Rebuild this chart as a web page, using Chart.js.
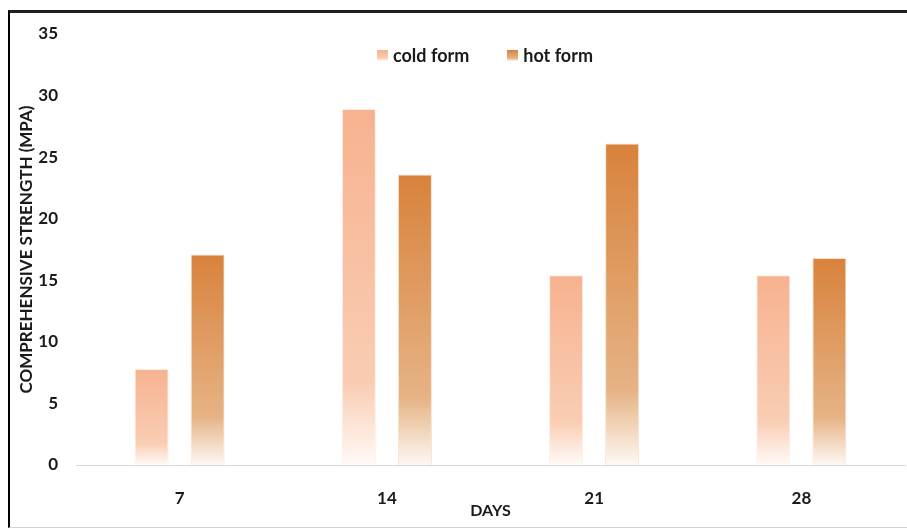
<!DOCTYPE html>
<html>
<head>
<meta charset="utf-8">
<script src="https://cdn.jsdelivr.net/npm/chart.js@4.4.1/dist/chart.umd.min.js"></script>
<style>
  html, body { margin: 0; padding: 0; background: #fff; overflow: hidden; }
  #wrap { position: relative; width: 907px; height: 528px; }
  #frame {
    position: absolute; left: 8px; top: 10px; width: 930px; height: 514px;
    border-left: 2px solid #000; border-top: 3px solid #1e1e1e; border-bottom: 1px solid #d4d4d4;
    pointer-events: none;
  }
  canvas { position: absolute; left: 0; top: 0; }
  #legend {
    position: absolute; top: 44px; left: 0; width: 970px; display: flex; justify-content: center; gap: 38px;
    font-family: Lato, "Open Sans", sans-serif; font-weight: bold; font-size: 18px; color: #1a1a1a;
  }
  #legend .item { display: flex; align-items: center; gap: 5px; }
  #legend .sw { width: 11px; height: 11px; }
</style>
</head>
<body>
<div id="wrap">
  <div id="frame"></div>
  <canvas id="c" width="907" height="528"></canvas>
  <div id="legend"></div>
</div>
<script>
const days = ['7', '14', '21', '28'];
const coldForm = [7.8, 28.9, 15.4, 15.4];
const hotForm = [17.1, 23.6, 26.1, 16.8];
const yTicks = [0, 5, 10, 15, 20, 25, 30, 35];

// gradient stops per series: solid top, lighter tint, near white at the base
const coldStops = ['#F7B28F', '#F9CDB3', '#FFFAF7'];
const hotStops = ['#D8823C', '#E6B385', '#FDF8F3'];

function barGradient(stops) {
  return (ctx) => {
    const chart = ctx.chart;
    if (!chart.chartArea || ctx.type !== 'data') return stops[0];
    const y = chart.scales.y;
    const top = y.getPixelForValue(ctx.parsed.y);
    const base = y.getPixelForValue(0);
    if (!isFinite(top) || top === base) return stops[0];
    const g = chart.ctx.createLinearGradient(0, top, 0, base);
    g.addColorStop(0, stops[0]);
    g.addColorStop(0.77, stops[1]);
    g.addColorStop(1, stops[2]);
    return g;
  };
}

const font = { family: 'Lato, "Open Sans", sans-serif', weight: 'bold' };

const chart = new Chart(document.getElementById('c'), {
  type: 'bar',
  data: {
    labels: days,
    datasets: [
      { label: 'cold form', data: coldForm, backgroundColor: barGradient(coldStops),
        borderColor: 'rgba(255,235,225,0.9)', borderWidth: 1, swatch: coldStops },
      { label: 'hot form', data: hotForm, backgroundColor: barGradient(hotStops),
        borderColor: 'rgba(248,222,200,0.9)', borderWidth: 1, swatch: hotStops }
    ]
  },
  options: {
    responsive: false,
    animation: false,
    layout: { padding: { left: 8, right: 2, top: 34, bottom: 0 } },
    plugins: { legend: { display: false }, tooltip: { enabled: false } },
    datasets: { bar: { categoryPercentage: 0.541, barPercentage: 0.607 } },
    scales: {
      x: {
        grid: { display: false },
        border: { display: true, color: '#d9d9d9', width: 1 },
        ticks: { color: '#1a1a1a', font: { ...font, size: 17 }, padding: 15 },
        title: { display: true, text: 'DAYS', color: '#1a1a1a', font: { ...font, size: 16 }, padding: { top: 0, bottom: 8 } },
        afterFit: (s) => { s.height = 63; }
      },
      y: {
        min: 0, max: 35,
        afterBuildTicks: (s) => { s.ticks = yTicks.map(v => ({ value: v })); },
        grid: { display: false, drawTicks: false },
        border: { display: false },
        ticks: { color: '#1a1a1a', font: { ...font, size: 17 }, padding: 18 },
        title: { display: true, text: 'COMPREHENSIVE STRENGTH (MPA)', color: '#1a1a1a', font: { ...font, size: 17 }, padding: { top: 8, bottom: 0 } },
        afterFit: (s) => { s.width = 68; }
      }
    }
  }
});

// legend built from the datasets
const legend = document.getElementById('legend');
chart.data.datasets.forEach(ds => {
  const item = document.createElement('div');
  item.className = 'item';
  const sw = document.createElement('span');
  sw.className = 'sw';
  sw.style.background = `linear-gradient(${ds.swatch[0]}, ${ds.swatch[1]} 75%, ${ds.swatch[2]})`;
  const txt = document.createElement('span');
  txt.textContent = ds.label;
  item.appendChild(sw);
  item.appendChild(txt);
  legend.appendChild(item);
});
</script>
</body>
</html>
